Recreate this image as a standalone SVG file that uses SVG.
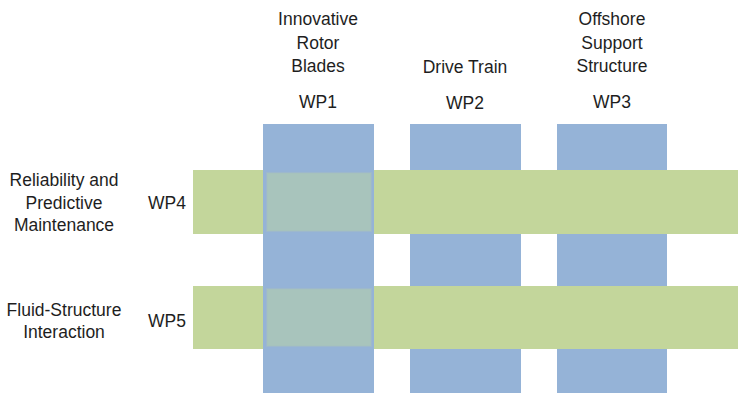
<svg xmlns="http://www.w3.org/2000/svg" width="738" height="393" viewBox="0 0 738 393">
<style>
.t{font-family:"Liberation Sans",Arial,sans-serif;font-size:17.5px;fill:#1e1e1e;text-anchor:middle}
.b{fill:#95B3D7}
.g{fill:#C3D69B}
.x{fill:#A8C4BC;stroke:#9DB8CC;stroke-width:1.2}
</style>
<rect width="738" height="393" fill="#fff"/>
<g id="wp1"><rect class="b" x="263" y="124" width="111" height="269"/></g>
<g id="wp2"><rect class="b" x="410" y="124" width="111" height="269"/></g>
<g id="wp3"><rect class="b" x="557" y="124" width="110" height="269"/></g>
<g id="wp4"><rect class="g" x="193" y="170" width="545" height="64"/></g>
<g id="wp5"><rect class="g" x="193" y="286" width="545" height="63"/></g>
<g id="overlaps">
<rect class="b" x="263" y="170" width="111" height="64"/>
<rect class="x" x="266.5" y="172.5" width="105" height="59"/>
<rect class="b" x="263" y="286" width="111" height="63"/>
<rect class="x" x="266.5" y="288.5" width="105" height="58"/>
</g>
<g id="labels">
<text class="t" x="318" y="25">Innovative</text>
<text class="t" x="318" y="49">Rotor</text>
<text class="t" x="318" y="72">Blades</text>
<text class="t" x="318" y="108">WP1</text>
<text class="t" x="465" y="73">Drive Train</text>
<text class="t" x="465" y="109">WP2</text>
<text class="t" x="612" y="25">Offshore</text>
<text class="t" x="612" y="49">Support</text>
<text class="t" x="612" y="72">Structure</text>
<text class="t" x="612" y="108">WP3</text>
<text class="t" x="64" y="186">Reliability and</text>
<text class="t" x="64" y="209">Predictive</text>
<text class="t" x="64" y="231">Maintenance</text>
<text class="t" x="167" y="209">WP4</text>
<text class="t" x="64" y="316">Fluid-Structure</text>
<text class="t" x="64" y="338">Interaction</text>
<text class="t" x="167" y="327">WP5</text>
</g>
</svg>
